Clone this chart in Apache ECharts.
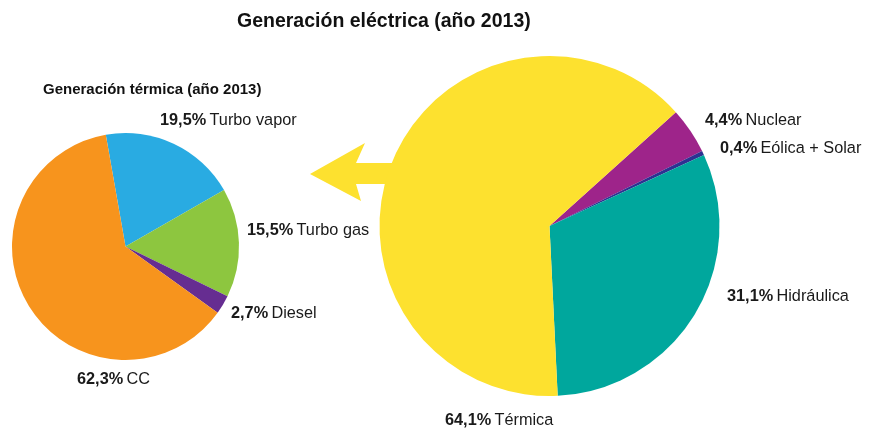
<!DOCTYPE html>
<html><head><meta charset="utf-8">
<script src="https://cdn.jsdelivr.net/npm/echarts@6/dist/echarts.min.js"></script>
<style>html,body{margin:0;padding:0;background:#fff}#c{width:876px;height:430px}</style>
</head><body><div id="c"></div>
<script>
// Big pie: electric generation 2013
const elecNames = ['Nuclear', 'Eólica + Solar', 'Hidráulica', 'Térmica'];
const elecValues = [4.4, 0.4, 31.1, 64.1];
const elecColors = ['#9E248A', '#2E3192', '#00A79D', '#FDE12F'];
// Small pie: thermal generation 2013
const thermNames = ['Turbo vapor', 'Turbo gas', 'Diesel', 'CC'];
const thermValues = [19.5, 15.5, 2.7, 62.3];
const thermColors = ['#29ABE2', '#8DC63F', '#662D91', '#F7941D'];

// label anchor positions (layout only)
const elecLabelPos = [[705,121],[720,149],[727,297],[445,421]];
const thermLabelPos = [[160,121],[247,231],[231,314],[77,380]];

const FONT = '"Liberation Sans", sans-serif';
const fmt = v => v.toFixed(1).replace('.', ',') + '%';
const rich = {
  p: {fontWeight: 'bold', fontSize: 16.3, color: '#1a1a1a', fontFamily: FONT},
  n: {fontSize: 16.3, color: '#1a1a1a', fontFamily: FONT}
};
function mk(names, values, colors){
  return names.map((n,i)=>({name:n, value:values[i], itemStyle:{color:colors[i]}}));
}
const chart = echarts.init(document.getElementById('c'));
chart.setOption({
  animation: false,
  backgroundColor: '#fff',
  title: [
    {text: 'Generación eléctrica (año 2013)', left: 232, top: 7,
     textStyle: {fontFamily: FONT, fontWeight: 'bold', fontSize: 19.5, color: '#111'}},
    {text: 'Generación térmica (año 2013)', left: 38, top: 77,
     textStyle: {fontFamily: FONT, fontWeight: 'bold', fontSize: 15, color: '#111'}}
  ],
  graphic: [{
    type: 'polygon', z: 0,
    shape: {points: [[310,174],[365,143],[356,163],[420,163],[420,184],[356,184],[361,201]]},
    style: {fill: '#FDE12F'}
  }],
  series: [
    {
      type: 'pie', center: [549.5, 226], radius: [0, 170], startAngle: 42,
      clockwise: true, z: 2,
      data: mk(elecNames, elecValues, elecColors),
      label: {show: true, position: 'outside', rich, overflow: 'none', width: 300,
        formatter: p => '{p|' + fmt(p.value) + '} {n|' + p.name + '}'},
      labelLine: {show: false},
      labelLayout: p => ({x: elecLabelPos[p.dataIndex][0], y: elecLabelPos[p.dataIndex][1], align: 'left', verticalAlign: 'middle'}),
      emphasis: {disabled: true}
    },
    {
      type: 'pie', center: [125.5, 246.5], radius: [0, 113.5], startAngle: 100,
      clockwise: true, z: 2,
      data: mk(thermNames, thermValues, thermColors),
      label: {show: true, position: 'outside', rich, overflow: 'none', width: 300,
        formatter: p => '{p|' + fmt(p.value) + '} {n|' + p.name + '}'},
      labelLine: {show: false},
      labelLayout: p => ({x: thermLabelPos[p.dataIndex][0], y: thermLabelPos[p.dataIndex][1], align: 'left', verticalAlign: 'middle'}),
      emphasis: {disabled: true}
    }
  ]
});
</script></body></html>
